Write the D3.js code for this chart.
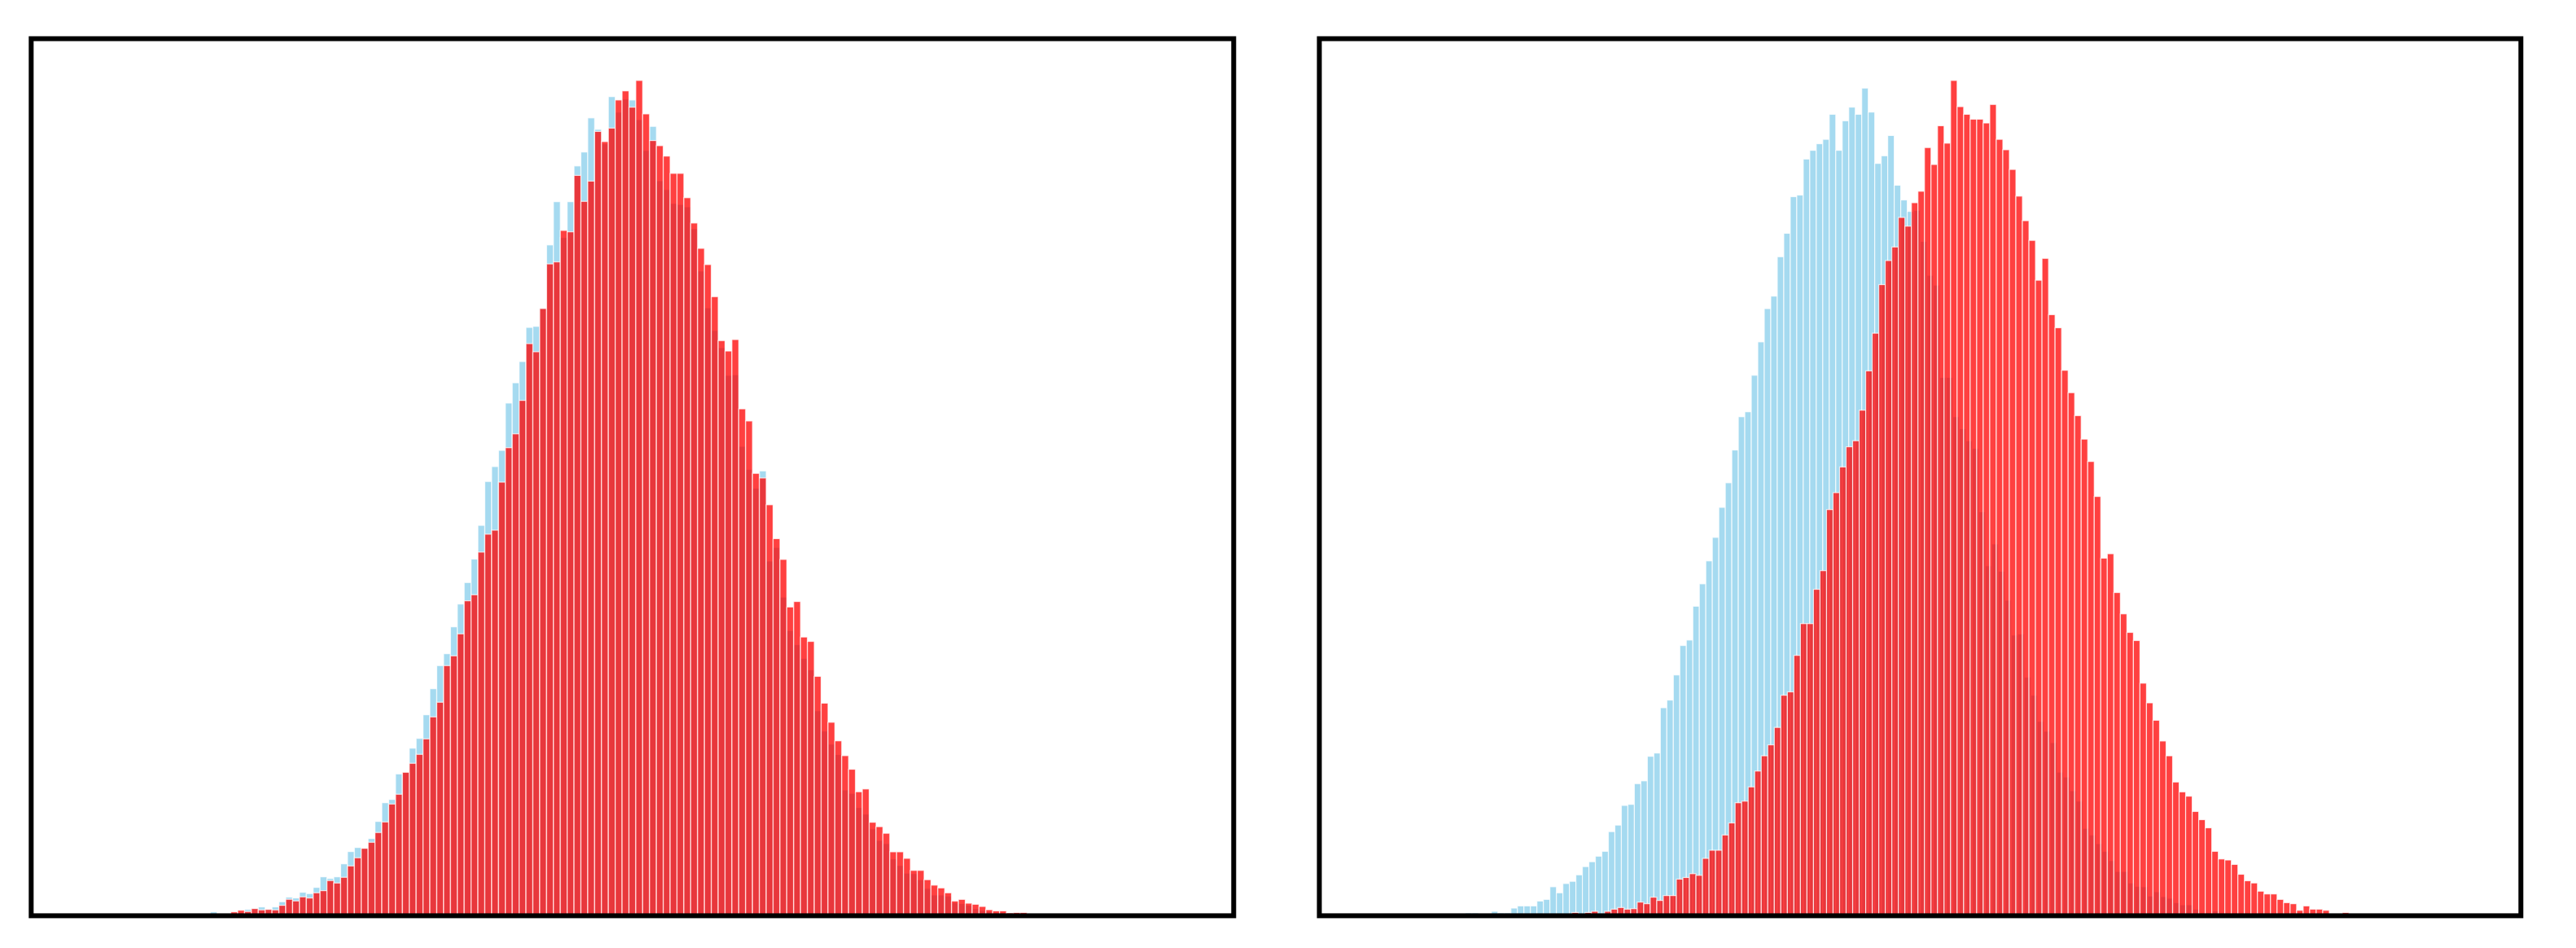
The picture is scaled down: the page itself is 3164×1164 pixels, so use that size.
<!DOCTYPE html>
<html><head><meta charset="utf-8">
<script src="https://cdn.jsdelivr.net/npm/d3@7"></script>
<style>html,body{margin:0;padding:0;background:#fff;} svg{display:block;}</style>
</head><body>
<svg id="chart" width="3164" height="1164"></svg>
<script>
// ---- data (bin counts, arbitrary units) ----
const xDomain = [-5, 5];

// left panel: both series share the same bins
const leftBinStart = -3.511, leftBinWidth = 0.05708;
const leftBlue = [4.8,0,0,3,4,7.8,8.8,10.8,7.8,10.8,17.2,22.8,21.8,28.8,27.2,34.8,47.8,45.8,47.8,63.8,
  78.8,83.8,82.8,94.8,115.8,138.8,142.8,174.2,176,205.8,217.8,246.8,278.8,307.2,321.8,354.8,382.8,409.2,438,479.4,
  533.3,551.6,571.5,629.6,654.5,680.6,722.5,723.8,746,823.8,876.9,832.9,876.9,920.8,937.9,979.8,965.7,948,1005.9,986.8,
  1003,1001.8,977.7,939.9,969.4,902.6,891.8,874.8,873.5,870.6,843.7,791.8,746.6,718.8,697.6,663.6,664.4,576.5,548.2,525,
  546.3,435.6,452.3,391.3,350.3,332.9,316.1,302,251.7,226.8,210.7,198,154.4,150.3,132.9,124.8,106.7,92.6,88.6,69.8,
  61.7,52.3,51.7,44.3,33.6,25.5,25.5,24.2,16,15,13,8.7,6.7,5,4,4,2,2,2,0];
const leftRed = [0,0,0,4.8,6.8,5.2,8.8,7.2,7.8,7.2,12.8,20.2,18.2,23.2,21.8,28.2,30.8,43.2,40.2,47.2,
  61.2,71.2,82.8,90.2,102.2,115.2,137.2,149.2,176.2,187.2,198.2,217.2,244.2,262.2,307.2,319.2,346.2,386.8,394.2,446.6,
  468.6,473.5,532.5,574.8,591.8,632.9,702.6,692.6,745.7,800.5,803,841.6,839.9,909.2,877.3,902.2,963.2,950.7,967.3,1001.8,
  1013,993,1025.8,984.7,952,945.7,932.9,911.7,911.7,881.8,850.7,819.6,799.7,760.3,706.3,693.5,707.6,622.5,607.6,543.3,
  537.6,504.7,463.1,437.6,379.2,385.9,342.3,336.9,294,261.1,237.6,214.8,196.6,179.9,152.3,155.7,114.8,109.4,101.3,78.5,
  78.5,70.5,55.7,55.7,44.3,37.6,34.2,28.2,18.1,20.1,15.4,14.1,11.4,7.4,6,6,3.4,4,4,2];

// right panel: each series has its own bins
const rightBlueStart = -3.784, rightBlueWidth = 0.05407;
const rightBlue = [3.4,3.4,0,0,5.4,3.4,3.4,9.4,12.1,12.1,12.1,18.1,20.1,35.6,28.2,39.6,42.3,50.3,60.4,66.4,
  73.2,79.2,103.4,111.4,135.6,136.9,162.4,165.8,196,200,255.7,265.1,296,332.2,338.9,380.5,408,436.2,465.1,502,
  532.2,572.5,613.4,619.5,664.4,705.4,746.3,761.7,810.1,838.9,883.9,885.9,930.2,940.9,949,954.4,985.2,940.9,977.2,994,
  985.2,1017.4,987.9,924.8,934.2,959.1,898,879.9,865.8,867.1,828.9,787.2,775.2,661.7,661.7,613.4,598.7,583.9,574.5,496.6,
  430.2,457,423.5,387.9,345,346.3,293.3,271.1,238.9,226.8,212.8,176.5,170.5,153.7,140.9,107.4,99.3,88.6,79.2,67.8,
  54.4,54.4,40.3,36.2,35.6,24.2,29.5,23.5,21.5,16.1,13.4,13.4,8.1,3.4,3.4,6,2.7,2,3.4,0];
const rightRedStart = -2.898, rightRedWidth = 0.05434;
const rightRed = [4,0,4,5.4,0,5.4,8.1,10.1,8.1,8.7,16.8,14.8,22.8,18.8,24.8,24.8,45,47,51.7,49.7,
  70.5,80.5,80.5,99.3,114.1,138.9,140.9,158.4,177.9,196.6,210.1,231.5,271.1,275.2,320.1,359.1,359.1,401.3,424.2,499.3,
  520.1,551.7,576.5,583.9,621.5,669.8,716.1,775.8,805.4,822.1,858.4,847.7,876.5,890.6,944.3,923.5,971.1,949.7,1026.8,994.6,
  985.2,979.2,979.2,974.5,997.3,954.4,941.6,917.4,884.6,854.4,830.2,781.2,808.1,738.9,722.8,670.5,643,614.8,585.9,558.4,
  515.4,439.6,445,397.3,371.1,348.3,338.3,285.9,261.7,240.3,214.8,196.6,164.4,152.3,147,128.2,118.1,108.1,79.2,69.8,
  68.5,63.1,51,43,40.3,30.2,26.8,26.8,20.1,16.1,14.8,6.7,12.1,8.1,8.1,6.7,1.3,0,4,1.3];

// ---- layout ----
const svg = d3.select("#chart");
const plotTop = 47.5, plotBottom = 1124.4;
const panels = [
  { x0: 38.3, x1: 1515.3, series: [
      { values: leftBlue, start: leftBinStart, width: leftBinWidth, color: "skyblue" },
      { values: leftRed,  start: leftBinStart, width: leftBinWidth, color: "red" } ] },
  { x0: 1620.5, x1: 3096.3, series: [
      { values: rightBlue, start: rightBlueStart, width: rightBlueWidth, color: "skyblue" },
      { values: rightRed,  start: rightRedStart,  width: rightRedWidth,  color: "red" } ] }
];

panels.forEach((p, pi) => {
  const x = d3.scaleLinear().domain(xDomain).range([p.x0, p.x1]);
  const ymax = d3.max(p.series, s => d3.max(s.values)) * 1.05;
  const y = d3.scaleLinear().domain([0, ymax]).range([plotBottom, plotTop]);
  const g = svg.append("g").attr("class", "panel" + pi);
  const clipId = "clip" + pi;
  svg.append("clipPath").attr("id", clipId).append("rect")
    .attr("x", p.x0).attr("y", plotTop).attr("width", p.x1 - p.x0).attr("height", plotBottom - plotTop);
  const inner = g.append("g").attr("clip-path", `url(#${clipId})`);
  p.series.forEach(s => {
    const bins = s.values.map((v, i) => ({ x0: s.start + i * s.width, x1: s.start + (i + 1) * s.width, v }));
    inner.append("g").selectAll("rect").data(bins.filter(b => b.v > 0)).join("rect")
      .attr("x", b => x(b.x0))
      .attr("width", b => x(b.x1) - x(b.x0))
      .attr("y", b => y(b.v))
      .attr("height", b => y(0) - y(b.v))
      .attr("fill", s.color).attr("fill-opacity", 0.75)
      .attr("stroke", "white").attr("stroke-opacity", 0.75).attr("stroke-width", 1.2);
  });
  g.append("rect")
    .attr("x", p.x0).attr("y", plotTop).attr("width", p.x1 - p.x0).attr("height", plotBottom - plotTop)
    .attr("fill", "none").attr("stroke", "black").attr("stroke-width", 6);
});
</script>
</body></html>
